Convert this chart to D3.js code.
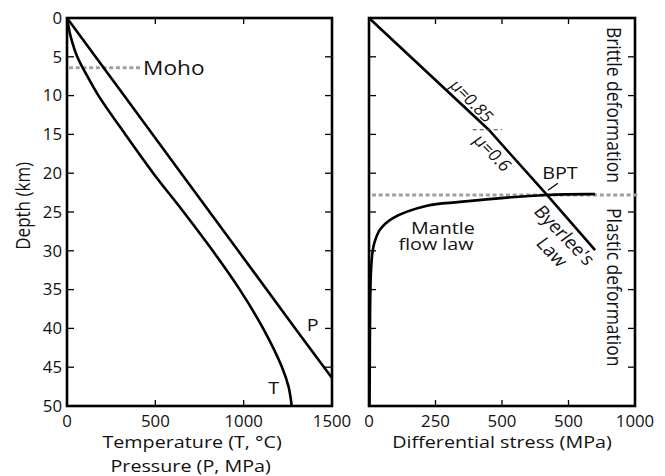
<!DOCTYPE html>
<html><head><meta charset="utf-8">
<script src="https://cdn.jsdelivr.net/npm/d3@7"></script>
<style>body{margin:0;background:#fff}svg{display:block}text{font-family:"Open Sans","Noto Sans",sans-serif;fill:#111}</style>
</head><body><svg id="c" width="665" height="476"></svg>
<script>
// ---------- data ----------
const depthTicks = [0,5,10,15,20,25,30,35,40,45,50];
const leftXTicks = [0,500,1000,1500];
const leftXTickLabels = ["0","500","1000","1500"];
const rightXTicks = [0,250,500,750,1000];
const rightXTickLabels = ["0","250","500","500","1000"];

// Temperature profile (depth km, T °C)
const tDepth = [0,1,2.5,5,7.5,10,15,20,25,30,35,40,45,47.5,50];
const tValue = [0,8,22,58,115,178,330,488,660,825,978,1110,1217,1254,1272];
// Pressure profile (depth km, P MPa)
const pDepth = [0,10,20,30,40,46.4];
const pValue = [0,323,646,969,1292,1500];
// Byerlee's law (depth km, differential stress MPa)
const byDepth = [0,14.4,22.8,29.9];
const byStress = [0,450,669,850];
// Mantle flow law
const mfDepth = [22.7,22.8,23.7,24.2,25.8,27.3,29.0,30.5,33,38,44,50];
const mfStress = [850,669,342,218,90,41,20,12,7,4,3,2];
const mohoDepth = 6.4;
const bptDepth = 22.8;
const muChangeDepth = 14.4;

// ---------- layout ----------
const svg = d3.select("#c");
const yTop = 18, yBot = 406;
const K = 1.16;          // horizontal stretch of lettering
const y = d3.scaleLinear().domain([0,50]).range([yTop,yBot]);
const xL = d3.scaleLinear().domain([0,1500]).range([67,332]);
const xR = d3.scaleLinear().domain([0,1000]).range([369,635]);

function txt(x, yy, str, o={}){
  const size=o.size||17, anchor=o.anchor||"middle", rot=o.rot||0, k=o.k||K;
  return svg.append("text")
    .attr("transform",`translate(${x},${yy}) scale(${k},1) rotate(${rot})`)
    .attr("text-anchor",anchor).attr("font-size",size).text(str);
}

function frame(x, ticks, labels){
  const g = svg.append("g");
  const [x0,x1] = x.range();
  const tk = g.append("g").attr("stroke","#000").attr("stroke-width",1.3);
  ticks.forEach(t=>{
    tk.append("line").attr("x1",x(t)).attr("x2",x(t)).attr("y1",yTop).attr("y2",yTop+6);
    tk.append("line").attr("x1",x(t)).attr("x2",x(t)).attr("y1",yBot).attr("y2",yBot-6);
  });
  depthTicks.forEach(d=>{
    tk.append("line").attr("x1",x0).attr("x2",x0+7).attr("y1",y(d)).attr("y2",y(d));
    tk.append("line").attr("x1",x1).attr("x2",x1-7).attr("y1",y(d)).attr("y2",y(d));
  });
  g.append("rect").attr("x",x0).attr("y",yTop).attr("width",x1-x0).attr("height",yBot-yTop)
    .attr("fill","none").attr("stroke","#000").attr("stroke-width",2.6);
  ticks.forEach((t,i)=> txt(x(t), yBot+21, labels[i], {size:16, k:1.05}));
}
frame(xL, leftXTicks, leftXTickLabels);
frame(xR, rightXTicks, rightXTickLabels);

depthTicks.forEach(d=> txt(62, y(d)+5.8, String(d), {size:16, k:1.05, anchor:"end"}));
txt(30, y(24.2), "Depth (km)", {rot:-90, size:17});
txt(xL(708), 448, "Temperature (T, °C)");
txt(xL(700), 472, "Pressure (P, MPa)");
txt((xR.range()[0]+xR.range()[1])/2, 448, "Differential stress (MPa)");

// ---------- left panel ----------
svg.append("line").attr("x1",xL(0)+2).attr("x2",xL(425)).attr("y1",y(mohoDepth)).attr("y2",y(mohoDepth))
  .attr("stroke","#a0a0a0").attr("stroke-width",3).attr("stroke-dasharray","4,2.7");
txt(xL(425)+1, y(mohoDepth)+7, "Moho", {size:19.5, anchor:"start"});

svg.append("path").attr("d",d3.line().x(d=>xL(d[1])).y(d=>y(d[0])).curve(d3.curveCatmullRom.alpha(0.5))(tDepth.map((d,i)=>[d,tValue[i]])))
  .attr("fill","none").attr("stroke","#000").attr("stroke-width",2.6);
svg.append("path").attr("d",d3.line().x(d=>xL(d[1])).y(d=>y(d[0]))(pDepth.map((d,i)=>[d,pValue[i]])))
  .attr("fill","none").attr("stroke","#000").attr("stroke-width",2.6);
txt(xL(1390), y(39.5)+6, "P");
txt(xL(1170), y(47.7)+6, "T");

// ---------- right panel ----------
svg.append("line").attr("x1",xR(0)+3).attr("x2",xR(1000)+4).attr("y1",y(bptDepth)).attr("y2",y(bptDepth))
  .attr("stroke","#a0a0a0").attr("stroke-width",3).attr("stroke-dasharray","4,2.7");

svg.append("path").attr("d",d3.line().x(d=>xR(d[1])).y(d=>y(d[0]))(byDepth.map((d,i)=>[d,byStress[i]])))
  .attr("fill","none").attr("stroke","#000").attr("stroke-width",2.6);
svg.append("path").attr("d",d3.line().x(d=>xR(d[1])).y(d=>y(d[0])).curve(d3.curveCatmullRom)(mfDepth.map((d,i)=>[d,mfStress[i]])))
  .attr("fill","none").attr("stroke","#000").attr("stroke-width",2.6);

svg.append("line").attr("x1",xR(390)).attr("x2",xR(500)).attr("y1",y(muChangeDepth)).attr("y2",y(muChangeDepth))
  .attr("stroke","#444").attr("stroke-width",1.2).attr("stroke-dasharray","4,3");

const dxB = xR(byStress[3])-xR(0), dyB = y(byDepth[3])-y(0);
const ang = Math.atan2(dyB, dxB/K)*180/Math.PI;
txt(xR(387), y(10.7), "μ=0.85", {rot:ang, size:15.5}).attr("dy","0.35em");
txt(xR(465), y(17.4), "μ=0.6", {rot:ang, size:16}).attr("dy","0.35em");
const by = txt(xR(735), y(28.0), null, {rot:ang, size:17}).attr("dy","0.35em");
by.append("tspan").attr("x",0).text("Byerlee's");
by.append("tspan").attr("x",6).attr("dy",19).text("Law");

txt(xR(718), y(20.3)+3, "BPT", {size:17});
svg.append("line").attr("x1",xR(673)).attr("x2",xR(710)).attr("y1",y(22.2)).attr("y2",y(21.3))
  .attr("stroke","#000").attr("stroke-width",1.3);

const mf = txt(xR(278), y(27.8), null, {size:17});
mf.append("tspan").attr("x",0).attr("y",0).text("Mantle");
mf.append("tspan").attr("x",-6).attr("y",16.5).text("flow law");

txt(xR(893), y(11.2), "Brittle deformation", {rot:90, size:17.5});
txt(xR(893), y(34.7), "Plastic deformation", {rot:90, size:17.5});
</script></body></html>
